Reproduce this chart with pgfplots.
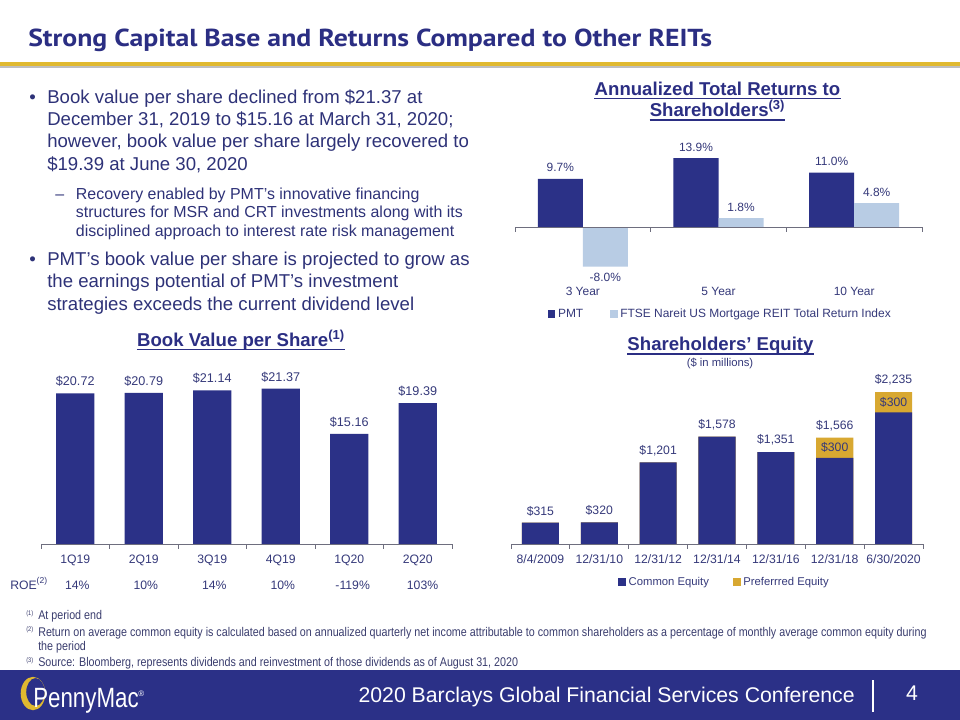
\documentclass[border=0pt]{standalone}
\usepackage{pgfplots}
\pgfplotsset{compat=1.18}
\usepackage{fontspec}
\setmainfont{Liberation Sans}
\newfontfamily\titlefont[FakeStretch=1.13]{PT Sans}
\newfontfamily\narrowfont[FakeStretch=0.85]{Liberation Sans}
\newfontfamily\logofont[FakeStretch=0.8]{Liberation Sans}
\definecolor{navy}{HTML}{2B3187}
\definecolor{lightb}{HTML}{B8CCE4}
\definecolor{goldbar}{HTML}{D8A831}
\definecolor{goldline}{HTML}{E0B930}
\definecolor{titlenavy}{HTML}{2B2E83}
\definecolor{bodyc}{HTML}{2E3278}
\definecolor{labc}{HTML}{35397A}
\definecolor{footc}{HTML}{3A3D6E}
\definecolor{footnavy}{HTML}{2B3087}
\definecolor{axc}{HTML}{6E6E7E}
\newcommand{\fs}[1]{\fontsize{#1}{#1}\selectfont}
\pgfplotsset{sqleg/.style={legend image code/.code={\fill[##1] (0bp,-2.9bp) rectangle (5.8bp,2.9bp);}}}
\begin{document}
\begin{tikzpicture}[x=0.75bp,y=-0.75bp]
\useasboundingbox (0,0) rectangle (960,720);
\fill[white] (0,0) rectangle (960,720);
% title
\node[anchor=base west, inner sep=0, text=titlenavy, font=\titlefont\bfseries\fs{18.5}] at (28,46.7) {Strong Capital Base and Returns Compared to Other REITs};
\fill[black!25] (0,65.5) rectangle (960,68);
\fill[goldline] (0,61.5) rectangle (960,65.5);
% bullets
\begin{scope}[every node/.style={anchor=base west, inner sep=0, text=bodyc}]
\node[font=\fs{14}] at (29,103.3) {•};
\node[font=\fs{14}] at (47,103.3) {Book value per share declined from \$21.37 at};
\node[font=\fs{14}] at (47,125.5) {December 31, 2019 to \$15.16 at March 31, 2020;};
\node[font=\fs{14}] at (47,147.7) {however, book value per share largely recovered to};
\node[font=\fs{14}] at (47,170) {\$19.39 at June 30, 2020};
\node[font=\fs{12}] at (55,199) {–};
\node[font=\fs{12}] at (75.7,199) {Recovery enabled by PMT’s innovative financing};
\node[font=\fs{12}] at (75.7,217.7) {structures for MSR and CRT investments along with its};
\node[font=\fs{12}] at (75.7,236.7) {disciplined approach to interest rate risk management};
\node[font=\fs{14}] at (29,265.7) {•};
\node[font=\fs{14}] at (47,265.7) {PMT’s book value per share is projected to grow as};
\node[font=\fs{14}] at (47,287.7) {the earnings potential of PMT’s investment};
\node[font=\fs{14}] at (47,310) {strategies exceeds the current dividend level};
\end{scope}
% chart titles
\node[name=t1, anchor=base, inner sep=0, font=\bfseries\fs{14}, text=titlenavy] at (241,346) {Book Value per Share\textsuperscript{(1)}};
\draw[titlenavy, line width=1bp] ([yshift=-2.4bp]t1.base west) -- ([yshift=-2.4bp]t1.base east);
\node[name=t2, anchor=base, inner sep=0, font=\bfseries\fs{14}, text=titlenavy] at (717.5,95) {Annualized Total Returns to};
\draw[titlenavy, line width=1bp] ([yshift=-2.4bp]t2.base west) -- ([yshift=-2.4bp]t2.base east);
\node[name=t3, anchor=base, inner sep=0, font=\bfseries\fs{14}, text=titlenavy] at (717.5,116.7) {Shareholders\textsuperscript{(3)}};
\draw[titlenavy, line width=1bp] ([yshift=-2.4bp]t3.base west) -- ([yshift=-2.4bp]t3.base east);
\node[name=t4, anchor=base, inner sep=0, font=\bfseries\fs{14}, text=titlenavy] at (720.5,350.7) {Shareholders’ Equity};
\draw[titlenavy, line width=1bp] ([yshift=-2.4bp]t4.base west) -- ([yshift=-2.4bp]t4.base east);
\node[anchor=base, inner sep=0, font=\fs{8.5}, text=labc] at (720,366) {(\$ in millions)};

% ---------- Returns chart ----------
\begin{axis}[at={(386.25bp,-199.95bp)}, anchor=south west, scale only axis,
  width=305.25bp, height=81.675bp, xmin=-0.5, xmax=2.5, ymin=-8, ymax=14,
  hide axis, clip=false, ybar, bar width=0.332,
  nodes near coords={\pgfmathprintnumber[fixed,fixed zerofill,precision=1,assume math mode=true]{\pgfplotspointmeta}\%},
  every node near coord/.append style={font=\fs{9}, text=labc, inner sep=5bp},
  legend style={draw=none, fill=none, at={(0.505,-0.435)}, anchor=center, font=\fs{9}, text=labc,
    legend columns=2, /tikz/every even column/.append style={column sep=18bp}},
]
\addplot[sqleg, fill=navy, draw=none, bar shift=-0.166] coordinates {(0,9.7) (1,13.9) (2,11.0)};
\addlegendentry{PMT}
\addplot[sqleg, fill=lightb, draw=none, bar shift=0.166] coordinates {(0,-8.0) (1,1.8) (2,4.8)};
\addlegendentry{FTSE Nareit US Mortgage REIT Total Return Index}
\draw[axc, line width=0.6bp] (axis cs:-0.5,0) -- (axis cs:2.5,0);
\pgfplotsinvokeforeach{-0.5,0.5,1.5,2.5}{\draw[axc, line width=0.6bp] (axis cs:#1,0) -- ++(0bp,-4bp);}
\node[font=\fs{9}, text=labc] at (axis cs:0,0) [yshift=-48bp] {3 Year};
\node[font=\fs{9}, text=labc] at (axis cs:1,0) [yshift=-48bp] {5 Year};
\node[font=\fs{9}, text=labc] at (axis cs:2,0) [yshift=-48bp] {10 Year};
\end{axis}

% ---------- Book value chart ----------
\begin{axis}[at={(30.75bp,-408bp)}, anchor=south west, scale only axis,
  width=308.25bp, height=119.9bp, xmin=-0.5, xmax=5.5, ymin=0, ymax=22,
  hide axis, clip=false, ybar, bar width=0.555,
]
\addplot[fill=navy, draw=none, bar shift=0,
  nodes near coords={\$\pgfmathprintnumber[fixed,fixed zerofill,precision=2,assume math mode=true]{\pgfplotspointmeta}},
  every node near coord/.append style={font=\fs{9.5}, text=labc, yshift=1.5bp}]
  coordinates {(0,20.72) (1,20.79) (2,21.14) (3,21.37) (4,15.16) (5,19.39)};
\draw[axc, line width=0.6bp] (axis cs:-0.5,0) -- (axis cs:5.5,0);
\pgfplotsinvokeforeach{-0.5,0.5,1.5,2.5,3.5,4.5,5.5}{\draw[axc, line width=0.6bp] (axis cs:#1,0) -- ++(0bp,-4bp);}
\node[font=\fs{9.2}, text=labc] at (axis cs:0,0) [yshift=-12bp] {1Q19};
\node[font=\fs{9.2}, text=labc] at (axis cs:1,0) [yshift=-12bp] {2Q19};
\node[font=\fs{9.2}, text=labc] at (axis cs:2,0) [yshift=-12bp] {3Q19};
\node[font=\fs{9.2}, text=labc] at (axis cs:3,0) [yshift=-12bp] {4Q19};
\node[font=\fs{9.2}, text=labc] at (axis cs:4,0) [yshift=-12bp] {1Q20};
\node[font=\fs{9.2}, text=labc] at (axis cs:5,0) [yshift=-12bp] {2Q20};
\node[font=\fs{9.2}, text=labc] at (axis cs:0.03,0) [yshift=-31bp] {14\%};
\node[font=\fs{9.2}, text=labc] at (axis cs:1.03,0) [yshift=-31bp] {10\%};
\node[font=\fs{9.2}, text=labc] at (axis cs:2.03,0) [yshift=-31bp] {14\%};
\node[font=\fs{9.2}, text=labc] at (axis cs:3.03,0) [yshift=-31bp] {10\%};
\node[font=\fs{9.2}, text=labc] at (axis cs:4.05,0) [yshift=-31bp] {-119\%};
\node[font=\fs{9.2}, text=labc] at (axis cs:5.07,0) [yshift=-31bp] {103\%};
\end{axis}
\node[anchor=base west, inner sep=0, font=\fs{9.2}, text=labc] at (10,589) {ROE\textsuperscript{(2)}};

% ---------- Equity chart ----------
\begin{axis}[at={(383.25bp,-408bp)}, anchor=south west, scale only axis,
  width=309bp, height=117.3bp, xmin=-0.5, xmax=6.5, ymin=0, ymax=2300,
  hide axis, clip=false, ybar, bar width=0.63,
  legend style={draw=none, fill=none, at={(0.519,-0.243)}, anchor=center, font=\fs{8.5}, text=labc,
    legend columns=2, /tikz/every even column/.append style={column sep=16bp}},
]
\addlegendimage{sqleg, fill=navy, draw=none}
\addlegendentry{Common Equity}
\addlegendimage{sqleg, fill=goldbar, draw=none}
\addlegendentry{Preferrred Equity}
% total equity (common + preferred)
\addplot[forget plot, fill=goldbar, draw=none, bar shift=0,
  nodes near coords={\$\pgfmathprintnumber[fixed,precision=0,assume math mode=true]{\pgfplotspointmeta}},
  every node near coord/.append style={font=\fs{9.2}, text=labc, yshift=1.5bp}]
  coordinates {(0,315) (1,320) (2,1201) (3,1578) (4,1351) (5,1566) (6,2235)};
% common equity
\addplot[forget plot, fill=navy, draw=none, bar shift=0]
  coordinates {(0,315) (1,320) (2,1201) (3,1578) (4,1351) (5,1266) (6,1935)};
% preferred equity label at mid of segment, meta = preferred amount
\addplot[forget plot, draw=none, fill=none, bar shift=0, point meta=explicit,
  nodes near coords={\$\pgfmathprintnumber[fixed,precision=0,assume math mode=true]{\pgfplotspointmeta}},
  every node near coord/.append style={font=\fs{9.2}, text=labc, anchor=center}]
  coordinates {(5,1416) [300] (6,2085) [300]};
\draw[axc, line width=0.6bp] (axis cs:-0.5,0) -- (axis cs:6.5,0);
\pgfplotsinvokeforeach{-0.5,0.5,1.5,2.5,3.5,4.5,5.5,6.5}{\draw[axc, line width=0.6bp] (axis cs:#1,0) -- ++(0bp,-4bp);}
\node[font=\fs{9.2}, text=labc] at (axis cs:0,0) [yshift=-11.5bp] {8/4/2009};
\node[font=\fs{9.2}, text=labc] at (axis cs:1,0) [yshift=-11.5bp] {12/31/10};
\node[font=\fs{9.2}, text=labc] at (axis cs:2,0) [yshift=-11.5bp] {12/31/12};
\node[font=\fs{9.2}, text=labc] at (axis cs:3,0) [yshift=-11.5bp] {12/31/14};
\node[font=\fs{9.2}, text=labc] at (axis cs:4,0) [yshift=-11.5bp] {12/31/16};
\node[font=\fs{9.2}, text=labc] at (axis cs:5,0) [yshift=-11.5bp] {12/31/18};
\node[font=\fs{9.2}, text=labc] at (axis cs:6,0) [yshift=-11.5bp] {6/30/2020};
\end{axis}

% footnotes
\begin{scope}[every node/.style={anchor=base west, inner sep=0, text=footc}]
\node[font=\narrowfont\fs{5}] at (26,615) {(1)};
\node[font=\narrowfont\fs{9.5}] at (38,619.5) {At period end};
\node[font=\narrowfont\fs{5}] at (26,631.5) {(2)};
\node[font=\narrowfont\fs{9.5}] at (38,636) {Return on average common equity is calculated based on annualized quarterly net income attributable to common shareholders as a percentage of monthly average common equity during};
\node[font=\narrowfont\fs{9.5}] at (38,650.5) {the period};
\node[font=\narrowfont\fs{5}] at (26,662) {(3)};
\node[font=\narrowfont\fs{9.5}] at (38,666.5) {Source: Bloomberg, represents dividends and reinvestment of those dividends as of August 31, 2020};
\end{scope}

% footer
\fill[footnavy] (0,670) rectangle (960,720);
\node[anchor=base east, inner sep=0, text=white, font=\fs{16}] at (855,702) {2020 Barclays Global Financial Services Conference};
\draw[white, line width=1bp] (873,680) -- (873,712);
\node[anchor=base, inner sep=0, text=white, font=\fs{16}] at (912,700) {4};
\fill[goldline, even odd rule] (33,693.5) ellipse [x radius=12.3, y radius=16.7] (35.5,692) ellipse [x radius=9.3, y radius=14];
\node[anchor=base west, inner sep=0, text=white, font=\logofont\fs{21}] at (33,707.7) {PennyMac};
\node[anchor=base west, inner sep=0, text=white, font=\fs{6}] at (138,696) {®};
\end{tikzpicture}
\end{document}
